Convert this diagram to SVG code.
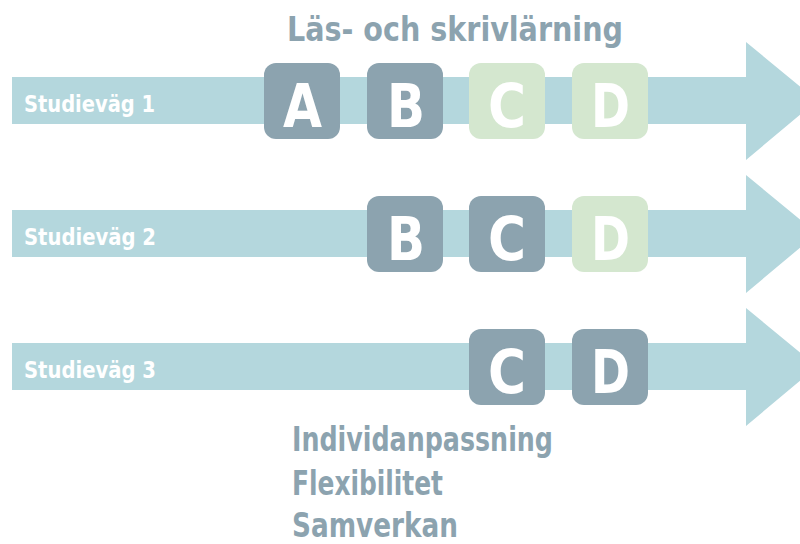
<svg xmlns="http://www.w3.org/2000/svg" width="800" height="544" viewBox="0 0 800 544">
  <defs>
    <style>
      .arrow { fill: #b4d7dd; }
      .box-dark { fill: #8ca3af; }
      .box-light { fill: #d4e7cf; }
      text { font-family: "DejaVu Sans Condensed", "Liberation Sans", sans-serif; font-weight: bold; }
      .letter { font-size: 60px; fill: #ffffff; }
      .path-label { font-size: 23px; fill: #ffffff; }
      .heading { font-size: 33px; fill: #8ca3af; }
      .keyword { font-size: 34px; fill: #8ca3af; }
    </style>
  </defs>

  <rect width="800" height="544" fill="#ffffff"/>

  <!-- Study path arrows -->
  <g id="connectors">
    <polygon class="arrow" points="12,77 746,77 746,42 817,100.5 746,160 746,124 12,124"/>
    <polygon class="arrow" points="12,210 746,210 746,175 817,233.5 746,293 746,257 12,257"/>
    <polygon class="arrow" points="12,343 746,343 746,308 817,366.5 746,426 746,390 12,390"/>
  </g>

  <g id="label-path1"><text class="path-label" x="24" y="112" textLength="131" lengthAdjust="spacingAndGlyphs">Studieväg 1</text></g>
  <g id="label-path2"><text class="path-label" x="24" y="245" textLength="132" lengthAdjust="spacingAndGlyphs">Studieväg 2</text></g>
  <g id="label-path3"><text class="path-label" x="24" y="378" textLength="132" lengthAdjust="spacingAndGlyphs">Studieväg 3</text></g>

  <g id="heading-top"><text class="heading" x="287" y="41" textLength="336" lengthAdjust="spacingAndGlyphs">Läs- och skrivlärning</text></g>

  <!-- Path 1 -->
  <g id="p1-A"><rect class="box-dark" x="264" y="63" width="76" height="76" rx="12"/><text class="letter" x="283" y="127" textLength="39" lengthAdjust="spacingAndGlyphs">A</text></g>
  <g id="p1-B"><rect class="box-dark" x="367" y="63" width="76" height="76" rx="12"/><text class="letter" x="387" y="127" textLength="38" lengthAdjust="spacingAndGlyphs">B</text></g>
  <g id="p1-C"><rect class="box-light" x="469" y="63" width="76" height="76" rx="12"/><text class="letter" x="488" y="127" textLength="38" lengthAdjust="spacingAndGlyphs">C</text></g>
  <g id="p1-D"><rect class="box-light" x="572" y="63" width="76" height="76" rx="12"/><text class="letter" x="591" y="127" textLength="39" lengthAdjust="spacingAndGlyphs">D</text></g>

  <!-- Path 2 -->
  <g id="p2-B"><rect class="box-dark" x="367" y="196" width="76" height="76" rx="12"/><text class="letter" x="387" y="260" textLength="38" lengthAdjust="spacingAndGlyphs">B</text></g>
  <g id="p2-C"><rect class="box-dark" x="469" y="196" width="76" height="76" rx="12"/><text class="letter" x="488" y="260" textLength="38" lengthAdjust="spacingAndGlyphs">C</text></g>
  <g id="p2-D"><rect class="box-light" x="572" y="196" width="76" height="76" rx="12"/><text class="letter" x="591" y="260" textLength="39" lengthAdjust="spacingAndGlyphs">D</text></g>

  <!-- Path 3 -->
  <g id="p3-C"><rect class="box-dark" x="469" y="329" width="76" height="76" rx="12"/><text class="letter" x="488" y="393" textLength="38" lengthAdjust="spacingAndGlyphs">C</text></g>
  <g id="p3-D"><rect class="box-dark" x="572" y="329" width="76" height="76" rx="12"/><text class="letter" x="591" y="393" textLength="39" lengthAdjust="spacingAndGlyphs">D</text></g>

  <g id="keywords">
    <text class="keyword" x="292" y="451" textLength="261" lengthAdjust="spacingAndGlyphs">Individanpassning</text>
    <text class="keyword" x="292" y="495" textLength="151" lengthAdjust="spacingAndGlyphs">Flexibilitet</text>
    <text class="keyword" x="292" y="537" textLength="166" lengthAdjust="spacingAndGlyphs">Samverkan</text>
  </g>
</svg>
